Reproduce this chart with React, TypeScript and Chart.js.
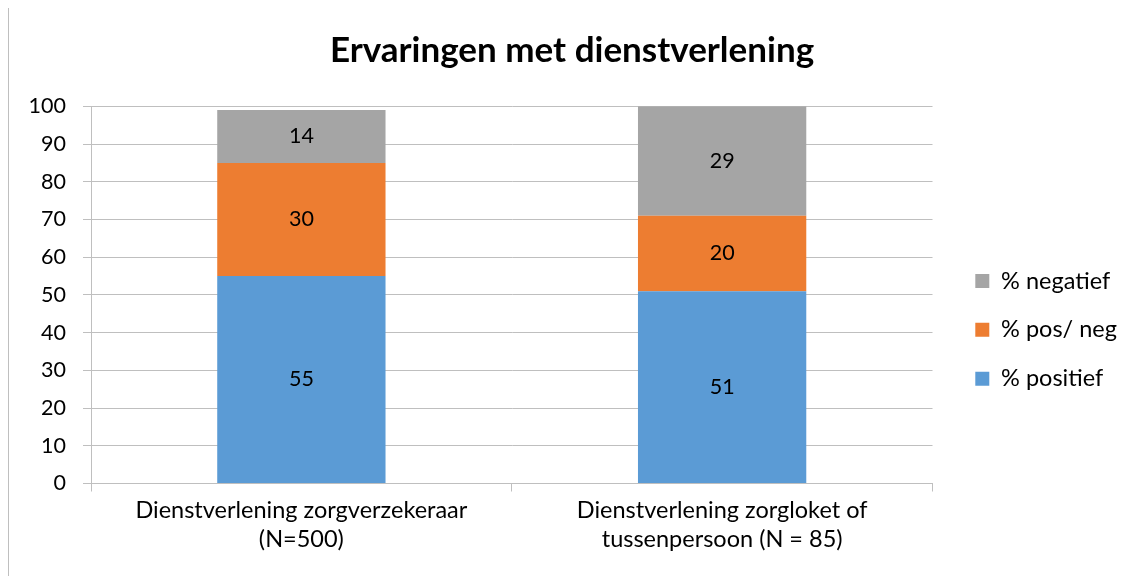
import React, { useEffect, useRef } from "react";
import { Chart, registerables } from "chart.js";

Chart.register(...registerables);

// ---- data ----
const categories: string[][] = [
  ["Dienstverlening zorgverzekeraar", "(N=500)"],
  ["Dienstverlening zorgloket of", "tussenpersoon (N = 85)"],
];
const seriesNames = ["% positief", "% pos/ neg", "% negatief"];
const positief = [55, 51];
const posNeg = [30, 20];
const negatief = [14, 29];
const yMin = 0;
const yMax = 100;
const yStep = 10;
const chartTitle = "Ervaringen met dienstverlening";

const colors = ["#5B9BD5", "#ED7D31", "#A5A5A5"];
const FONT = "Lato, 'Carlito', Calibri, sans-serif";
const GRID = "#bfbfbf";

const dataLabels = {
  id: "dataLabels",
  afterDatasetsDraw(chart: any) {
    const ctx = chart.ctx;
    ctx.save();
    ctx.font = `21.5px ${FONT}`;
    ctx.fillStyle = "#000";
    ctx.textAlign = "center";
    ctx.textBaseline = "middle";
    chart.data.datasets.forEach((ds: any, di: number) => {
      const meta = chart.getDatasetMeta(di);
      meta.data.forEach((el: any, i: number) => {
        const v = ds.data[i];
        if (v == null) return;
        const p = el.getCenterPoint();
        ctx.fillText(String(v), p.x, p.y);
      });
    });
    ctx.restore();
  },
};

const boxPlacer = {
  id: "boxPlacer",
  afterLayout(chart: any) {
    const ca = chart.chartArea;
    const lg = chart.legend;
    if (lg) {
      lg.left = ca.right + 17.4;
      lg.right = chart.width;
      lg.top = ca.top + 137.5;
      lg.bottom = chart.height;
      lg.width = lg.right - lg.left;
      lg.height = lg.bottom - lg.top;
    }
    const tb = chart.titleBlock;
    if (tb) {
      tb.left = 0;
      tb.right = chart.width;
      tb.width = chart.width;
    }
  },
};

export default function App() {
  const ref = useRef<HTMLCanvasElement | null>(null);

  useEffect(() => {
    if (!ref.current) return;
    const chart = new Chart(ref.current, {
      type: "bar",
      data: {
        labels: categories,
        datasets: [
          { label: seriesNames[0], data: positief, backgroundColor: colors[0] },
          { label: seriesNames[1], data: posNeg, backgroundColor: colors[1] },
          { label: seriesNames[2], data: negatief, backgroundColor: colors[2] },
        ],
      },
      options: {
        animation: false,
        responsive: true,
        maintainAspectRatio: false,
        datasets: {
          bar: { categoryPercentage: 1, barPercentage: 0.4 },
        },
        layout: { padding: { left: 0, right: 202.5, top: 0, bottom: 0 } },
        plugins: {
          title: {
            display: true,
            text: chartTitle,
            color: "#000",
            font: { family: FONT, size: 35, weight: "bold", lineHeight: 1.2 },
            padding: { top: 21.8, bottom: 34.5 },
          },
          legend: {
            display: true,
            position: "chartArea",
            align: "start",
            reverse: true,
            labels: {
              boxWidth: 14,
              boxHeight: 14,
              padding: 25.4,
              color: "#000",
              font: { family: FONT, size: 23.5 },
            },
          },
          tooltip: { enabled: false },
        },
        scales: {
          x: {
            stacked: true,
            offset: true,
            grid: {
              display: true,
              drawOnChartArea: false,
              drawTicks: true,
              tickLength: 8,
              offset: true,
              color: GRID,
            },
            border: { display: true, color: GRID },
            ticks: {
              color: "#000",
              padding: 5,
              maxRotation: 0,
              autoSkip: false,
              font: { family: FONT, size: 23.5, lineHeight: 1.213 },
            },
            afterFit(scale: any) {
              scale.height = 92.5;
            },
          },
          y: {
            stacked: true,
            min: yMin,
            max: yMax,
            ticks: {
              stepSize: yStep,
              color: "#000",
              padding: 17,
              font: { family: FONT, size: 21.5 },
            },
            grid: {
              color: GRID,
              drawTicks: true,
              tickLength: 8,
            },
            border: { display: true, color: GRID },
            afterFit(scale: any) {
              scale.width = 82;
            },
          },
        },
      },
      plugins: [dataLabels, boxPlacer],
    } as any);
    return () => chart.destroy();
  }, []);

  return (
    <div
      style={{
        marginTop: -1,
        width: 1126,
        height: 568,
        borderTop: "1px solid #bfbfbf",
        borderLeft: "1px solid #bfbfbf",
        position: "relative",
        background: "#fff",
      }}
    >
      <canvas ref={ref} />
    </div>
  );
}
